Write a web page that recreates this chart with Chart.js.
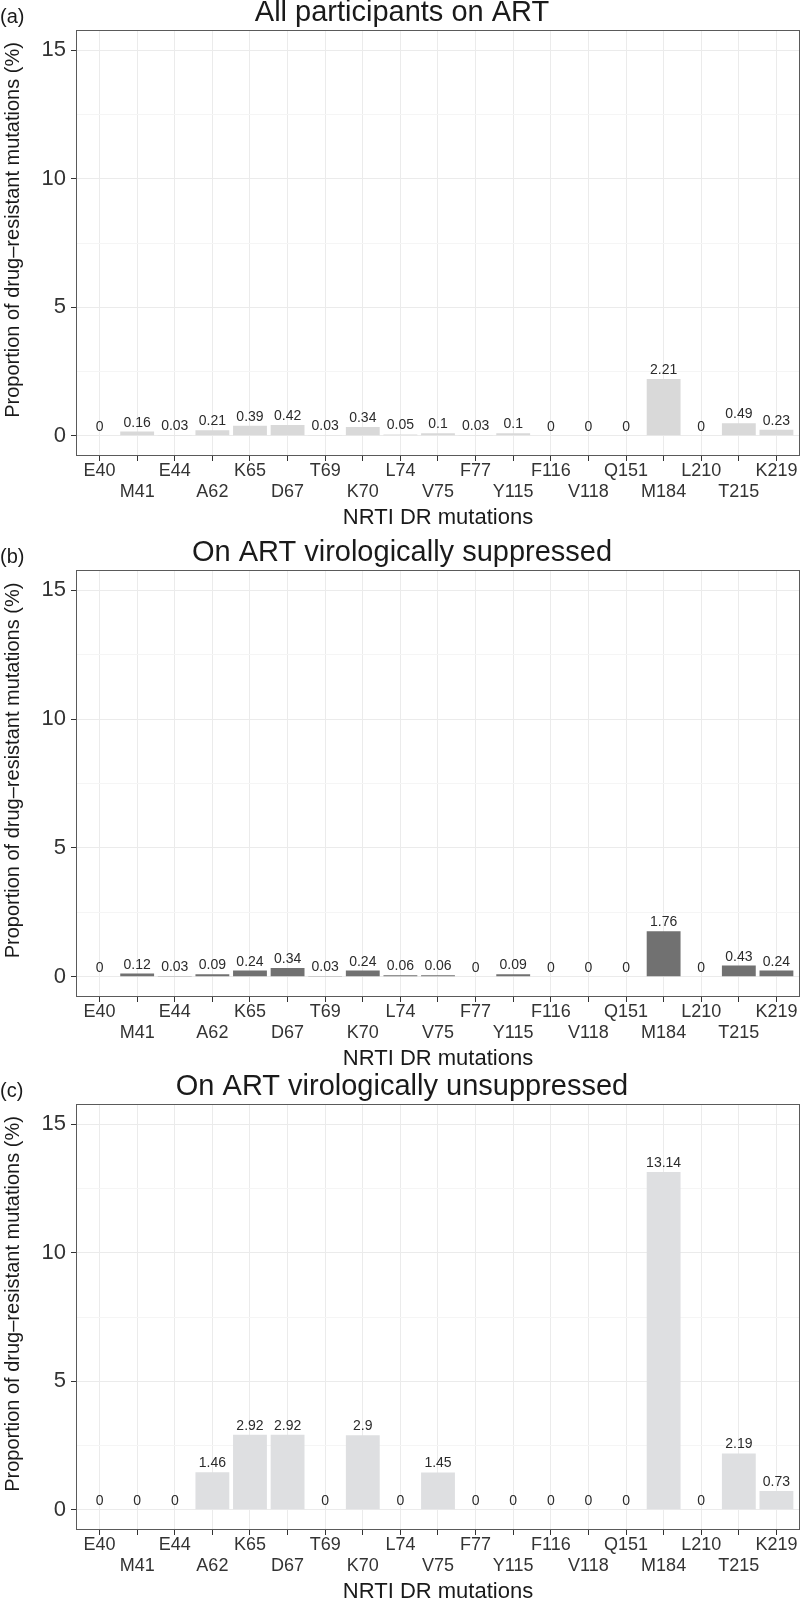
<!DOCTYPE html>
<html>
<head>
<meta charset="utf-8">
<script src="https://cdn.jsdelivr.net/npm/chart.js@4.4.1/dist/chart.umd.min.js"></script>
<style>
  html, body { margin:0; padding:0; background:#ffffff; width:800px; height:1599px; overflow:hidden; }
  canvas { position:absolute; left:0; }
</style>
</head>
<body>
<canvas id="cA"></canvas>
<canvas id="cB"></canvas>
<canvas id="cC"></canvas>
<script>
// ---------- data ----------
const categories = ['E40','M41','E44','A62','K65','D67','T69','K70','L74','V75','F77','Y115','F116','V118','Q151','M184','L210','T215','K219'];
const allOnART      = [0, 0.16, 0.03, 0.21, 0.39, 0.42, 0.03, 0.34, 0.05, 0.1, 0.03, 0.1, 0, 0, 0, 2.21, 0, 0.49, 0.23];
const suppressed    = [0, 0.12, 0.03, 0.09, 0.24, 0.34, 0.03, 0.24, 0.06, 0.06, 0, 0.09, 0, 0, 0, 1.76, 0, 0.43, 0.24];
const unsuppressed  = [0, 0, 0, 1.46, 2.92, 2.92, 0, 2.9, 0, 1.45, 0, 0, 0, 0, 0, 13.14, 0, 2.19, 0.73];
const panelTitles   = ['All participants on ART', 'On ART virologically suppressed', 'On ART virologically unsuppressed'];
const panelLetters  = ['(a)', '(b)', '(c)'];
const yMajorTicks   = [0, 5, 10, 15];
const yMinorTicks   = [2.5, 7.5, 12.5];
const xAxisTitle    = 'NRTI DR mutations';
const yAxisTitle    = 'Proportion of drug\u2013resistant mutations (%)';

// ---------- style / layout ----------
const FONT = '"Liberation Sans", Arial, Helvetica, sans-serif';
Chart.defaults.font.family = FONT;
const panels = [
  { id:'cA', values: allOnART,     color:'#d9d9d9', plotTop:31,   plotBottom:455 },
  { id:'cB', values: suppressed,   color:'#717171', plotTop:571,  plotBottom:996 },
  { id:'cC', values: unsuppressed, color:'#dedfe1', plotTop:1105, plotBottom:1529 }
];
const PLOT_LEFT = 77, PLOT_RIGHT = 799, ABOVE = 42, BELOW = 92;

const frameAndText = {
  id: 'frameAndText',
  afterDatasetsDraw(chart, args, opts) {
    const ctx = chart.ctx;
    const meta = chart.getDatasetMeta(0);
    const ds = chart.data.datasets[0];
    ctx.save();
    ctx.font = '14px ' + FONT;
    ctx.fillStyle = '#2b2b2b';
    ctx.textAlign = 'center';
    ctx.textBaseline = 'alphabetic';
    meta.data.forEach((bar, i) => {
      ctx.fillText(String(ds.data[i].y), bar.x, bar.y - 5);
    });
    ctx.restore();
  },
  afterDraw(chart, args, opts) {
    const ctx = chart.ctx;
    const a = chart.chartArea;
    ctx.save();
    ctx.strokeStyle = '#5a5a5a';
    ctx.lineWidth = 1;
    ctx.strokeRect(Math.round(a.left) - 0.5, Math.round(a.top) - 0.5, Math.round(a.right - a.left) + 1, Math.round(a.bottom - a.top) + 1);
    ctx.fillStyle = '#1a1a1a';
    ctx.textBaseline = 'alphabetic';
    ctx.font = '29px ' + FONT;
    ctx.textAlign = 'center';
    ctx.fillText(opts.title, 402, a.top - 10);
    ctx.font = '20px ' + FONT;
    ctx.textAlign = 'left';
    ctx.fillText(opts.letter, 0, a.top - 8);
    // y-axis title
    ctx.save();
    ctx.translate(19, (a.top + a.bottom) / 2 - 13);
    ctx.rotate(-Math.PI / 2);
    ctx.font = '20px ' + FONT;
    ctx.textAlign = 'center';
    ctx.fillText(yAxisTitle, 0, 0);
    ctx.restore();
    ctx.restore();
  }
};

panels.forEach((p, k) => {
  const cv = document.getElementById(p.id);
  const T = p.plotTop - ABOVE;
  const H = (p.plotBottom - p.plotTop) + ABOVE + BELOW;
  cv.width = 800; cv.height = H;
  cv.style.top = T + 'px';
  cv.style.width = '800px'; cv.style.height = H + 'px';
  const xTitleLH = 22 * 1.2;
  const xTitlePadBottom = BELOW - 62.5 - xTitleLH / 2;

  new Chart(cv, {
    type: 'bar',
    data: {
      datasets: [{
        data: p.values.map((v, i) => ({ x: i, y: v })),
        backgroundColor: p.color,
        borderWidth: 0,
        barPercentage: 0.9,
        categoryPercentage: 1.0
      }]
    },
    options: {
      responsive: false,
      animation: false,
      devicePixelRatio: 1,
      layout: { padding: { top: ABOVE, bottom: 0, left: 0, right: 800 - PLOT_RIGHT } },
      plugins: {
        legend: { display: false },
        tooltip: { enabled: false },
        frameAndText: { title: panelTitles[k], letter: panelLetters[k] }
      },
      scales: {
        x: {
          type: 'linear',
          offset: false,
          min: -0.6,
          max: categories.length - 0.4,
          afterBuildTicks: (s) => { s.ticks = categories.map((c, i) => ({ value: i })); },
          afterFit: (s) => { s.height = BELOW; },
          grid: {
            offset: false,
            color: '#ebebeb',
            lineWidth: 1,
            drawTicks: true,
            tickLength: 6,
            tickColor: '#333333'
          },
          border: { display: false },
          ticks: {
            autoSkip: false,
            maxRotation: 0,
            minRotation: 0,
            padding: 0,
            color: '#333333',
            font: { size: 18, lineHeight: '21px' },
            callback: (v) => {
              const i = Math.round(v);
              return i % 2 === 0 ? categories[i] : ['', categories[i]];
            }
          },
          title: {
            display: true,
            text: xAxisTitle,
            color: '#1a1a1a',
            font: { size: 22 },
            padding: { top: 0, bottom: xTitlePadBottom }
          }
        },
        y: {
          type: 'linear',
          min: -0.75,
          max: 15.75,
          afterBuildTicks: (s) => {
            s.ticks = yMajorTicks.concat(yMinorTicks).sort((a, b) => a - b).map(v => ({ value: v }));
          },
          afterFit: (s) => { s.width = PLOT_LEFT; },
          grid: {
            color: (c) => (yMajorTicks.includes(c.tick.value) ? '#ebebeb' : '#f5f5f5'),
            lineWidth: 1,
            drawTicks: true,
            tickLength: 6,
            tickColor: (c) => (yMajorTicks.includes(c.tick.value) ? '#333333' : 'rgba(0,0,0,0)')
          },
          border: { display: false },
          ticks: {
            padding: 5,
            color: '#333333',
            font: { size: 22 },
            callback: (v) => (yMajorTicks.includes(v) ? String(v) : '')
          },
          title: { display: false }
        }
      }
    },
    plugins: [frameAndText]
  });
});
</script>
</body>
</html>
